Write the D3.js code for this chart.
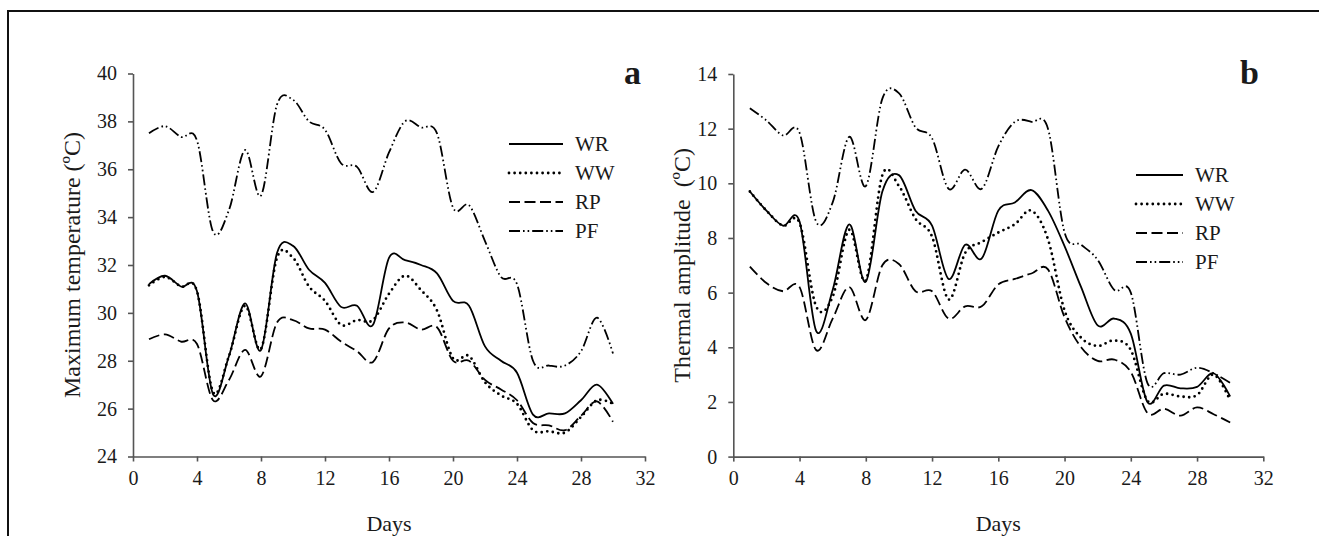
<!DOCTYPE html>
<html>
<head>
<meta charset="utf-8">
<script src="https://cdn.jsdelivr.net/npm/d3@7"></script>
<style>
  html, body { margin: 0; padding: 0; background: #fff; }
  svg { display: block; }
  text { font-family: "Liberation Serif", "Times New Roman", serif; fill: #1a1a1a; }
</style>
</head>
<body>
<svg id="chart" width="1319" height="536"></svg>
<script>
// ---------- data ----------
const days = d3.range(1, 31);
const xTicks = [0, 4, 8, 12, 16, 20, 24, 28, 32];
const yTicksA = [24, 26, 28, 30, 32, 34, 36, 38, 40];
const yTicksB = [0, 2, 4, 6, 8, 10, 12, 14];
const seriesNames = ["WR", "WW", "RP", "PF"];

// Panel a: maximum temperature (ºC)
const maxWR = [31.2, 31.55, 31.1, 30.9, 26.6, 28.2, 30.4, 28.45, 32.5, 32.8, 31.8, 31.25, 30.25, 30.3, 29.5, 32.3, 32.2, 32.0, 31.65, 30.5, 30.3, 28.6, 28.0, 27.5, 25.75, 25.8, 25.8, 26.35, 27.0, 26.2];
const maxWW = [31.15, 31.5, 31.1, 30.9, 26.7, 28.2, 30.3, 28.5, 32.3, 32.3, 31.1, 30.5, 29.5, 29.7, 29.7, 30.8, 31.55, 30.95, 30.1, 28.1, 28.2, 27.1, 26.55, 26.2, 25.1, 25.05, 25.0, 25.65, 26.35, 26.2];
const maxRP = [28.9, 29.1, 28.8, 28.7, 26.35, 27.2, 28.45, 27.35, 29.6, 29.7, 29.35, 29.3, 28.8, 28.4, 27.95, 29.35, 29.6, 29.3, 29.4, 28.0, 28.0, 27.2, 26.8, 26.35, 25.4, 25.3, 25.1, 25.7, 26.3, 25.45];
const maxPF = [37.5, 37.8, 37.35, 37.2, 33.4, 34.3, 36.8, 34.9, 38.7, 38.9, 38.0, 37.65, 36.25, 36.1, 35.05, 36.7, 38.0, 37.75, 37.5, 34.4, 34.5, 33.0, 31.5, 31.2, 28.0, 27.8, 27.8, 28.4, 29.8, 28.3];

// Panel b: thermal amplitude (ºC)
const ampWR = [9.7, 9.0, 8.45, 8.6, 4.6, 6.1, 8.5, 6.4, 9.7, 10.3, 9.0, 8.45, 6.5, 7.75, 7.25, 9.0, 9.3, 9.75, 9.0, 7.7, 6.2, 4.8, 5.05, 4.5, 2.0, 2.6, 2.5, 2.55, 3.05, 2.2];
const ampWW = [9.7, 9.0, 8.45, 8.55, 5.5, 5.85, 8.3, 6.45, 10.3, 9.9, 8.7, 8.05, 5.75, 7.45, 7.85, 8.2, 8.5, 9.0, 7.95, 5.35, 4.35, 4.05, 4.25, 3.9, 2.05, 2.3, 2.2, 2.25, 3.0, 2.05];
const ampRP = [6.95, 6.35, 6.05, 6.2, 3.9, 5.05, 6.2, 5.0, 7.0, 7.05, 6.05, 6.05, 5.05, 5.5, 5.5, 6.3, 6.5, 6.7, 6.85, 5.1, 4.0, 3.5, 3.55, 3.1, 1.6, 1.75, 1.5, 1.8, 1.55, 1.25];
const ampPF = [12.75, 12.3, 11.75, 11.85, 8.6, 9.3, 11.7, 9.9, 13.1, 13.3, 12.05, 11.65, 9.8, 10.5, 9.8, 11.35, 12.25, 12.25, 12.0, 8.2, 7.75, 7.2, 6.1, 6.0, 2.7, 3.05, 3.0, 3.25, 3.05, 2.7];

// ---------- styles ----------
const styles = {
  WR: { dash: null, width: 1.8, cap: "butt" },
  WW: { dash: "0 5.6", width: 2.8, cap: "round" },
  RP: { dash: "11 4.5", width: 1.8, cap: "butt" },
  PF: { dash: "11 3 1.6 3 1.6 3", width: 1.8, cap: "butt" }
};

const svg = d3.select("#chart");

// outer frame (right and bottom edges fall outside the image)
svg.append("rect").attr("x", 8).attr("y", 11).attr("width", 1340).attr("height", 560)
  .attr("fill", "none").attr("stroke", "#111").attr("stroke-width", 2);

function panel(cfg) {
  const x = d3.scaleLinear().domain([0, 32]).range([cfg.x0, cfg.x1]);
  const y = d3.scaleLinear().domain(cfg.yDomain).range([cfg.yBottom, cfg.yTop]);
  const g = svg.append("g");

  const xAxis = g.append("g").attr("transform", `translate(0,${cfg.yBottom})`)
    .call(d3.axisBottom(x).tickValues(xTicks).tickSizeInner(5).tickSizeOuter(0).tickPadding(9));
  const yAxis = g.append("g").attr("transform", `translate(${cfg.x0},0)`)
    .call(d3.axisLeft(y).tickValues(cfg.yTicks).tickSizeInner(5).tickSizeOuter(0).tickPadding(11));
  [xAxis, yAxis].forEach(a => {
    a.select(".domain").attr("stroke", "#555").attr("stroke-width", 1.6);
    a.selectAll(".tick line").attr("stroke", "#555").attr("stroke-width", 1.6);
    a.selectAll(".tick text").attr("font-size", 20).attr("fill", "#1a1a1a")
      .style("font-family", '"Liberation Serif", "Times New Roman", serif');
  });

  const line = d3.line().x((d, i) => x(days[i])).y(d => y(d)).curve(d3.curveCardinal.tension(0));
  cfg.series.forEach((vals, k) => {
    const st = styles[seriesNames[k]];
    g.append("path").datum(vals).attr("d", line).attr("fill", "none")
      .attr("stroke", "#000").attr("stroke-width", st.width)
      .attr("stroke-linecap", st.cap)
      .attr("stroke-dasharray", st.dash);
  });

  // legend
  seriesNames.forEach((name, k) => {
    const st = styles[name];
    const yy = cfg.legY + k * 29;
    g.append("line").attr("x1", cfg.legX).attr("x2", cfg.legX + cfg.legLen)
      .attr("y1", yy).attr("y2", yy).attr("stroke", "#000").attr("stroke-width", st.width)
      .attr("stroke-linecap", st.cap).attr("stroke-dasharray", st.dash);
    g.append("text").attr("x", cfg.legX + cfg.legLen + 12).attr("y", yy + 7)
      .attr("font-size", 21).text(name);
  });

  // panel letter
  g.append("text").attr("x", cfg.letterX).attr("y", 84).attr("font-size", 34)
    .attr("font-weight", "bold").text(cfg.letter);

  // axis titles
  g.append("text").attr("x", (cfg.x0 + cfg.x1) / 2).attr("y", 531).attr("text-anchor", "middle")
    .attr("font-size", 22).text("Days");
  g.append("text").attr("transform", `translate(${cfg.titleX},${(cfg.yTop + cfg.yBottom) / 2}) rotate(-90)`)
    .attr("text-anchor", "middle").attr("font-size", 24).style("white-space", "pre")
    .attr("xml:space", "preserve").text(cfg.yTitle);
}

panel({
  x0: 133, x1: 645, yTop: 73.5, yBottom: 456.5, yDomain: [24, 40], yTicks: yTicksA,
  series: [maxWR, maxWW, maxRP, maxPF],
  legX: 509, legLen: 54, legY: 144, letter: "a", letterX: 624,
  titleX: 80, yTitle: "Maximum temperature (ºC)"
});
panel({
  x0: 733.3, x1: 1263.3, yTop: 74, yBottom: 456.6, yDomain: [0, 14], yTicks: yTicksB,
  series: [ampWR, ampWW, ampRP, ampPF],
  legX: 1136, legLen: 47, legY: 175, letter: "b", letterX: 1240,
  titleX: 690, yTitle: "Thermal amplitude  (ºC)"
});
</script>
</body>
</html>
